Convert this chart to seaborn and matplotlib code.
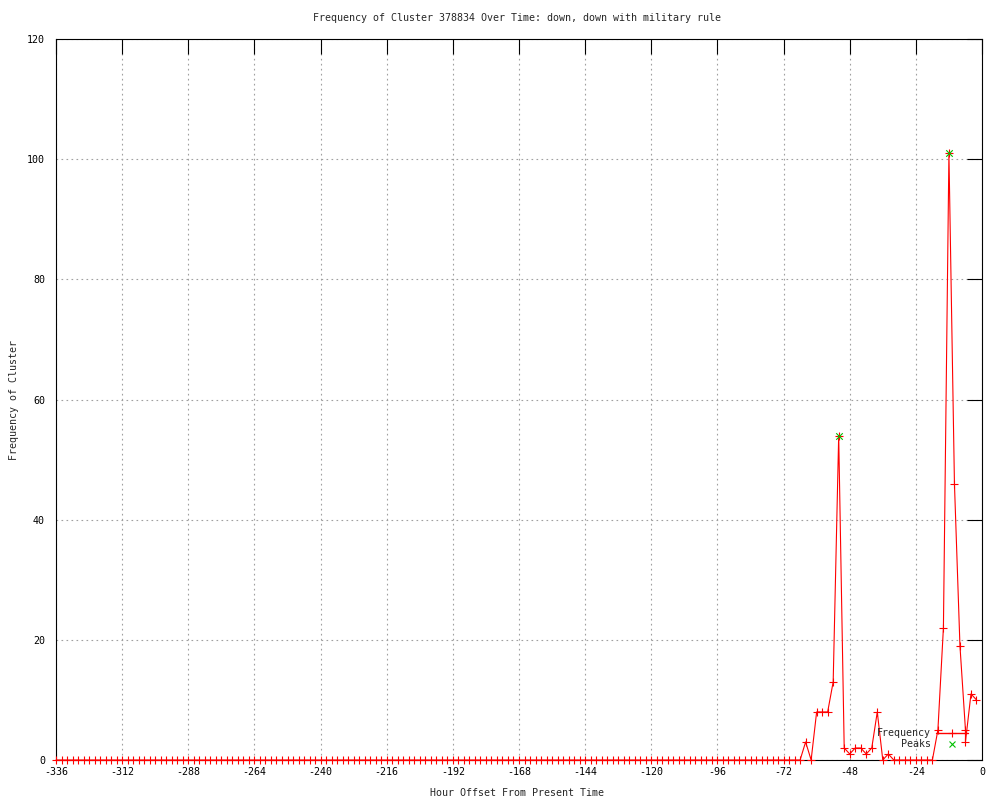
"""
Frequency of a cluster over time, drawn in the old gnuplot look.
"""

import matplotlib
matplotlib.use("Agg")
import matplotlib.pyplot as plt
import seaborn as sns
import pandas as pd
from matplotlib.lines import Line2D

# hour offsets (2-hour sampling, one repeated reading at -6)
hours = [
    -336, -334, -332, -330, -328, -326, -324, -322, -320, -318, -316, -314,
    -312, -310, -308, -306, -304, -302, -300, -298, -296, -294, -292, -290,
    -288, -286, -284, -282, -280, -278, -276, -274, -272, -270, -268, -266,
    -264, -262, -260, -258, -256, -254, -252, -250, -248, -246, -244, -242,
    -240, -238, -236, -234, -232, -230, -228, -226, -224, -222, -220, -218,
    -216, -214, -212, -210, -208, -206, -204, -202, -200, -198, -196, -194,
    -192, -190, -188, -186, -184, -182, -180, -178, -176, -174, -172, -170,
    -168, -166, -164, -162, -160, -158, -156, -154, -152, -150, -148, -146,
    -144, -142, -140, -138, -136, -134, -132, -130, -128, -126, -124, -122,
    -120, -118, -116, -114, -112, -110, -108, -106, -104, -102, -100, -98,
    -96, -94, -92, -90, -88, -86, -84, -82, -80, -78, -76, -74,
    -72, -70, -68, -66, -64, -62, -60, -58, -56, -54, -52, -50,
    -48, -46, -44, -42, -40, -38, -36, -34, -32, -30, -28, -26,
    -24, -22, -20, -18, -16, -14, -12, -10, -8, -6, -6, -4, -2,
]
counts = [
    0, 0, 0, 0, 0, 0, 0, 0, 0, 0, 0, 0,
    0, 0, 0, 0, 0, 0, 0, 0, 0, 0, 0, 0,
    0, 0, 0, 0, 0, 0, 0, 0, 0, 0, 0, 0,
    0, 0, 0, 0, 0, 0, 0, 0, 0, 0, 0, 0,
    0, 0, 0, 0, 0, 0, 0, 0, 0, 0, 0, 0,
    0, 0, 0, 0, 0, 0, 0, 0, 0, 0, 0, 0,
    0, 0, 0, 0, 0, 0, 0, 0, 0, 0, 0, 0,
    0, 0, 0, 0, 0, 0, 0, 0, 0, 0, 0, 0,
    0, 0, 0, 0, 0, 0, 0, 0, 0, 0, 0, 0,
    0, 0, 0, 0, 0, 0, 0, 0, 0, 0, 0, 0,
    0, 0, 0, 0, 0, 0, 0, 0, 0, 0, 0, 0,
    0, 0, 0, 0, 3, 0, 8, 8, 8, 13, 54, 2,
    1, 2, 2, 1, 2, 8, 0, 1, 0, 0, 0, 0,
    0, 0, 0, 0, 5, 22, 101, 46, 19, 5, 3, 11, 10,
]

peak_hours = [-52, -12]
peak_counts = [54, 101]

x_ticks = [-336, -312, -288, -264, -240, -216, -192, -168, -144, -120, -96, -72, -48, -24, 0]
y_ticks = [0, 20, 40, 60, 80, 100, 120]

title = "Frequency of Cluster 378834 Over Time: down, down with military rule"

RED = "#ff0000"
GREEN = "#00c000"

sns.set_style("white")
plt.rcParams["font.family"] = ["DejaVu Sans Mono", "DejaVu Sans"]
plt.rcParams["font.size"] = 7.2
plt.rcParams["axes.unicode_minus"] = False

df = pd.DataFrame({"hour": hours, "count": counts})

fig = plt.figure(figsize=(10, 8), dpi=100)
ax = fig.add_axes([0.056, 0.05, 0.926, 0.90125])

# main series
sns.lineplot(data=df, x="hour", y="count", ax=ax, color=RED, linewidth=0.8,
             marker="+", markersize=6, markeredgewidth=0.8,
             markeredgecolor=RED, estimator=None, sort=False, legend=False,
             clip_on=False, zorder=4)

# peaks
sns.scatterplot(x=peak_hours, y=peak_counts, ax=ax, marker="x", color=GREEN,
                s=22, linewidth=0.8, legend=False, zorder=5)

ax.set_xlim(-336, 0)
ax.set_ylim(0, 120)
ax.set_xticks(x_ticks)
ax.set_yticks(y_ticks)

ax.grid(True, linestyle=(0, (1.5, 3)), color="#a0a0a0", linewidth=0.8)
ax.set_axisbelow(True)
ax.tick_params(direction="in", length=11, width=0.8, top=True, right=True,
               labelsize=7.2, colors="black")
ax.tick_params(axis="y", pad=8)
ax.tick_params(axis="x", pad=5)
for spine in ax.spines.values():
    spine.set_color("black")
    spine.set_linewidth(0.8)

ax.set_xlabel("")
ax.set_ylabel("")
fig.text(0.517, 1 - 18 / 800, title, ha="center", va="center", fontsize=7.2)
fig.text(0.517, 1 - 793 / 800, "Hour Offset From Present Time",
         ha="center", va="center", fontsize=7.2)
fig.text(0.014, 1 - 400 / 800, "Frequency of Cluster", rotation=90,
         ha="center", va="center", fontsize=7.2)

handles = [
    Line2D([], [], color=RED, linewidth=1.0, marker="+", markersize=6,
           markeredgewidth=0.8),
    Line2D([], [], color=GREEN, linestyle="none", marker="x", markersize=5,
           markeredgewidth=0.8),
]
leg = ax.legend(handles, ["Frequency", "Peaks"], loc="lower right",
                bbox_to_anchor=(0.992, 0.005), markerfirst=False, frameon=False,
                handlelength=3.2, handletextpad=0.5, labelspacing=0.1,
                fontsize=7.2, borderpad=0.2)
leg.set_zorder(6)

fig.savefig("out.png", dpi=100)
